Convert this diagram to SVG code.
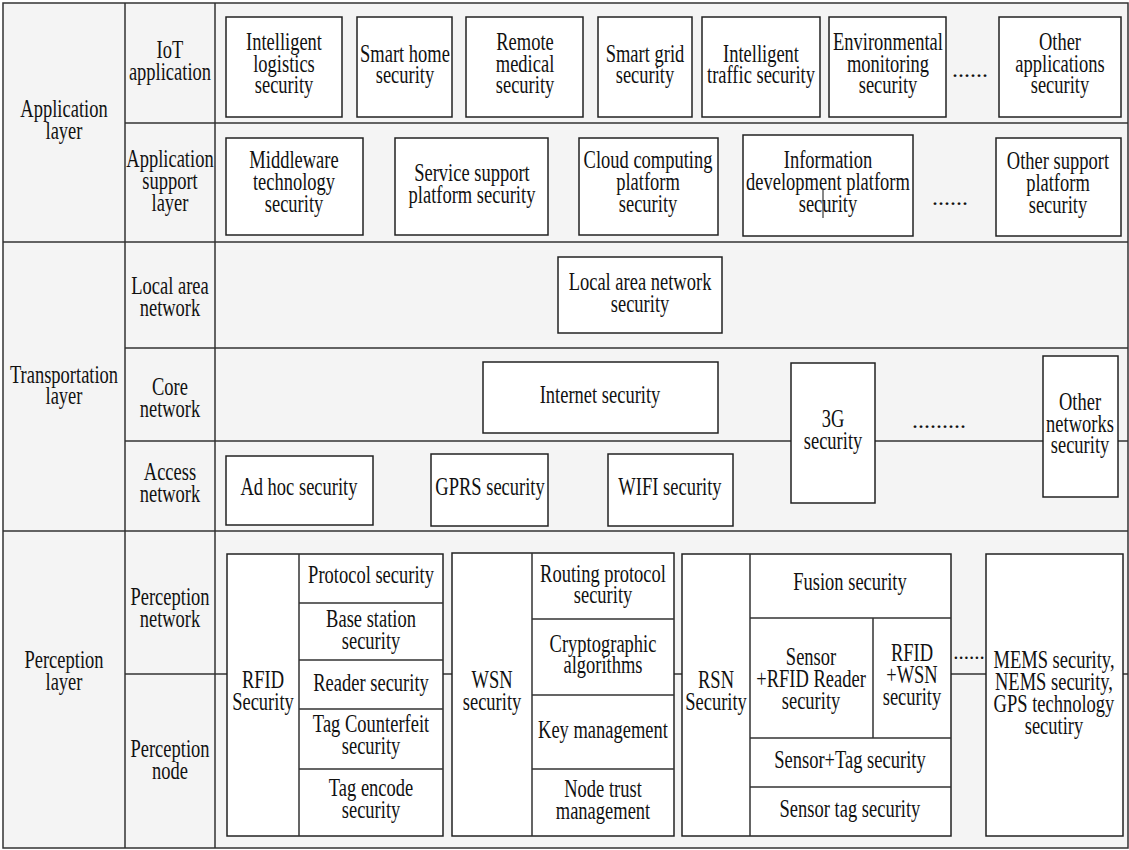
<svg xmlns="http://www.w3.org/2000/svg" width="1129" height="850" viewBox="0 0 1129 850">
<style>
.ln{stroke:#333;stroke-width:1.5;fill:none}
.box{fill:#fff;stroke:#222;stroke-width:1.5}
.t{font-family:"Liberation Serif","Times New Roman",serif;font-size:25px;fill:#111;text-anchor:middle}
.d{font-family:"Liberation Serif","Times New Roman",serif;font-size:24px;fill:#111;text-anchor:middle}
</style>
<rect x="0" y="0" width="1129" height="850" fill="#fff"/>
<rect x="3" y="3" width="1125" height="845" fill="#f4f4f4"/>
<g id="grid">
<path class="ln" d="M3 3H1128V848H3Z"/>
<path class="ln" d="M125 3V848M215 3V848"/>
<path class="ln" d="M125 123H1128M3 242H1128M125 348H1128M125 441H1128M3 531H1128M125 674H1128"/>
</g>
<g id="labels">
<g id="app-layer"><text class="t" transform="scale(.74 1)" x="86.5" y="117">Application</text><text class="t" transform="scale(.74 1)" x="86.5" y="139">layer</text></g>
<g id="iot-app"><text class="t" transform="scale(.74 1)" x="229.7" y="58">IoT</text><text class="t" transform="scale(.74 1)" x="229.7" y="80">application</text></g>
<g id="app-support"><text class="t" transform="scale(.74 1)" x="229.7" y="167">Application</text><text class="t" transform="scale(.74 1)" x="229.7" y="189">support</text><text class="t" transform="scale(.74 1)" x="229.7" y="211">layer</text></g>
<g id="transport-layer"><text class="t" transform="scale(.74 1)" x="86.5" y="383">Transportation</text><text class="t" transform="scale(.74 1)" x="86.5" y="404">layer</text></g>
<g id="lan"><text class="t" transform="scale(.74 1)" x="229.7" y="294">Local area</text><text class="t" transform="scale(.74 1)" x="229.7" y="316">network</text></g>
<g id="core"><text class="t" transform="scale(.74 1)" x="229.7" y="395">Core</text><text class="t" transform="scale(.74 1)" x="229.7" y="417">network</text></g>
<g id="access"><text class="t" transform="scale(.74 1)" x="229.7" y="480">Access</text><text class="t" transform="scale(.74 1)" x="229.7" y="502">network</text></g>
<g id="perception-layer"><text class="t" transform="scale(.74 1)" x="86.5" y="668">Perception</text><text class="t" transform="scale(.74 1)" x="86.5" y="690">layer</text></g>
<g id="perception-network"><text class="t" transform="scale(.74 1)" x="229.7" y="605">Perception</text><text class="t" transform="scale(.74 1)" x="229.7" y="627">network</text></g>
<g id="perception-node"><text class="t" transform="scale(.74 1)" x="229.7" y="757">Perception</text><text class="t" transform="scale(.74 1)" x="229.7" y="779">node</text></g>
</g>
<g id="n-logistics"><rect class="box" x="226" y="17" width="116" height="100"/><text class="t" transform="scale(.74 1)" x="383.8" y="50">Intelligent</text><text class="t" transform="scale(.74 1)" x="383.8" y="72">logistics</text><text class="t" transform="scale(.74 1)" x="383.8" y="93">security</text></g>
<g id="n-smarthome"><rect class="box" x="357" y="17" width="95" height="100"/><text class="t" transform="scale(.74 1)" x="547.3" y="62">Smart home</text><text class="t" transform="scale(.74 1)" x="547.3" y="83">security</text></g>
<g id="n-medical"><rect class="box" x="466" y="17" width="117" height="100"/><text class="t" transform="scale(.74 1)" x="709.5" y="50">Remote</text><text class="t" transform="scale(.74 1)" x="709.5" y="72">medical</text><text class="t" transform="scale(.74 1)" x="709.5" y="93">security</text></g>
<g id="n-grid"><rect class="box" x="598" y="17" width="94" height="100"/><text class="t" transform="scale(.74 1)" x="871.6" y="62">Smart grid</text><text class="t" transform="scale(.74 1)" x="871.6" y="83">security</text></g>
<g id="n-traffic"><rect class="box" x="702" y="17" width="118" height="100"/><text class="t" transform="scale(.74 1)" x="1028.4" y="62">Intelligent</text><text class="t" transform="scale(.74 1)" x="1028.4" y="83">traffic security</text></g>
<g id="n-env"><rect class="box" x="829" y="17" width="117" height="100"/><text class="t" transform="scale(.74 1)" x="1200" y="50">Environmental</text><text class="t" transform="scale(.74 1)" x="1200" y="72">monitoring</text><text class="t" transform="scale(.74 1)" x="1200" y="93">security</text></g>
<text class="d" x="970" y="77">......</text>
<g id="n-otherapps"><rect class="box" x="999" y="17" width="122" height="100"/><text class="t" transform="scale(.74 1)" x="1432.4" y="50">Other</text><text class="t" transform="scale(.74 1)" x="1432.4" y="72">applications</text><text class="t" transform="scale(.74 1)" x="1432.4" y="93">security</text></g>
<g id="n-middleware"><rect class="box" x="226" y="138" width="137" height="97"/><text class="t" transform="scale(.74 1)" x="397.3" y="168">Middleware</text><text class="t" transform="scale(.74 1)" x="397.3" y="190">technology</text><text class="t" transform="scale(.74 1)" x="397.3" y="212">security</text></g>
<g id="n-service"><rect class="box" x="395" y="138" width="153" height="97"/><text class="t" transform="scale(.74 1)" x="637.8" y="181">Service support</text><text class="t" transform="scale(.74 1)" x="637.8" y="203">platform security</text></g>
<g id="n-cloud"><rect class="box" x="579" y="138" width="139" height="97"/><text class="t" transform="scale(.74 1)" x="875.7" y="168">Cloud computing</text><text class="t" transform="scale(.74 1)" x="875.7" y="190">platform</text><text class="t" transform="scale(.74 1)" x="875.7" y="212">security</text></g>
<g id="n-infodev"><rect class="box" x="743" y="135" width="170" height="101"/><text class="t" transform="scale(.74 1)" x="1118.9" y="168">Information</text><text class="t" transform="scale(.74 1)" x="1118.9" y="190">development platform</text><text class="t" transform="scale(.74 1)" x="1118.9" y="212">security</text><line x1="823" y1="190" x2="823" y2="218" stroke="#111" stroke-width="1"/></g>
<text class="d" x="950" y="205">......</text>
<g id="n-othersupport"><rect class="box" x="996" y="138" width="125" height="98"/><text class="t" transform="scale(.74 1)" x="1429.7" y="169">Other support</text><text class="t" transform="scale(.74 1)" x="1429.7" y="191">platform</text><text class="t" transform="scale(.74 1)" x="1429.7" y="213">security</text></g>
<g id="n-lansec"><rect class="box" x="558" y="257" width="164" height="76"/><text class="t" transform="scale(.74 1)" x="864.9" y="290">Local area network</text><text class="t" transform="scale(.74 1)" x="864.9" y="312">security</text></g>
<g id="n-internet"><rect class="box" x="483" y="362" width="235" height="71"/><text class="t" transform="scale(.74 1)" x="810.8" y="403">Internet security</text></g>
<g id="n-3g"><rect class="box" x="791" y="363" width="84" height="140"/><text class="t" transform="scale(.74 1)" x="1125.7" y="427">3G</text><text class="t" transform="scale(.74 1)" x="1125.7" y="449">security</text></g>
<text class="d" x="939" y="428">.........</text>
<g id="n-othernet"><rect class="box" x="1043" y="356" width="75" height="141"/><text class="t" transform="scale(.74 1)" x="1459.5" y="410">Other</text><text class="t" transform="scale(.74 1)" x="1459.5" y="432">networks</text><text class="t" transform="scale(.74 1)" x="1459.5" y="453">security</text></g>
<g id="n-adhoc"><rect class="box" x="226" y="456" width="147" height="69"/><text class="t" transform="scale(.74 1)" x="404" y="495">Ad hoc security</text></g>
<g id="n-gprs"><rect class="box" x="431" y="454" width="117" height="72"/><text class="t" transform="scale(.74 1)" x="662.2" y="495">GPRS security</text></g>
<g id="n-wifi"><rect class="box" x="608" y="454" width="125" height="72"/><text class="t" transform="scale(.74 1)" x="905.4" y="495">WIFI security</text></g>
<g id="n-rfid"><rect class="box" x="227" y="554" width="216" height="282"/><path class="ln" d="M299 554V836M299 603H443M299 660H443M299 709H443M299 769H443"/>
<text class="t" transform="scale(.74 1)" x="355.4" y="688">RFID</text><text class="t" transform="scale(.74 1)" x="355.4" y="710">Security</text>
<text class="t" transform="scale(.74 1)" x="501.4" y="583">Protocol security</text>
<text class="t" transform="scale(.74 1)" x="501.4" y="627">Base station</text><text class="t" transform="scale(.74 1)" x="501.4" y="649">security</text>
<text class="t" transform="scale(.74 1)" x="501.4" y="691">Reader security</text>
<text class="t" transform="scale(.74 1)" x="501.4" y="732">Tag Counterfeit</text><text class="t" transform="scale(.74 1)" x="501.4" y="754">security</text>
<text class="t" transform="scale(.74 1)" x="501.4" y="796">Tag encode</text><text class="t" transform="scale(.74 1)" x="501.4" y="818">security</text></g>
<g id="n-wsn"><rect class="box" x="452" y="553" width="222" height="283"/><path class="ln" d="M532 553V836M532 619H674M532 695H674M532 769H674"/>
<text class="t" transform="scale(.74 1)" x="664.9" y="688">WSN</text><text class="t" transform="scale(.74 1)" x="664.9" y="710">security</text>
<text class="t" transform="scale(.74 1)" x="814.9" y="582">Routing protocol</text><text class="t" transform="scale(.74 1)" x="814.9" y="603">security</text>
<text class="t" transform="scale(.74 1)" x="814.9" y="652">Cryptographic</text><text class="t" transform="scale(.74 1)" x="814.9" y="673">algorithms</text>
<text class="t" transform="scale(.74 1)" x="814.9" y="738">Key management</text>
<text class="t" transform="scale(.74 1)" x="814.9" y="797">Node trust</text><text class="t" transform="scale(.74 1)" x="814.9" y="819">management</text></g>
<g id="n-rsn"><rect class="box" x="682" y="554" width="269" height="282"/><path class="ln" d="M750 554V836M750 618H951M750 738H951M750 787H951M873 618V738"/>
<text class="t" transform="scale(.74 1)" x="967.6" y="688">RSN</text><text class="t" transform="scale(.74 1)" x="967.6" y="710">Security</text>
<text class="t" transform="scale(.74 1)" x="1148.6" y="590">Fusion security</text>
<text class="t" transform="scale(.74 1)" x="1096" y="665">Sensor</text><text class="t" transform="scale(.74 1)" x="1096" y="687">+RFID Reader</text><text class="t" transform="scale(.74 1)" x="1096" y="709">security</text>
<text class="t" transform="scale(.74 1)" x="1232.4" y="661">RFID</text><text class="t" transform="scale(.74 1)" x="1232.4" y="683">+WSN</text><text class="t" transform="scale(.74 1)" x="1232.4" y="705">security</text>
<text class="t" transform="scale(.74 1)" x="1148.6" y="768">Sensor+Tag security</text>
<text class="t" transform="scale(.74 1)" x="1148.6" y="817">Sensor tag security</text></g>
<text class="d" x="969" y="659" style="font-size:21px">......</text>
<g id="n-mems"><rect class="box" x="986" y="554" width="137" height="282"/>
<text class="t" transform="scale(.74 1)" x="1424.3" y="668">MEMS security,</text><text class="t" transform="scale(.74 1)" x="1424.3" y="690">NEMS security,</text><text class="t" transform="scale(.74 1)" x="1424.3" y="712">GPS technology</text><text class="t" transform="scale(.74 1)" x="1424.3" y="734">secutiry</text></g>
</svg>
